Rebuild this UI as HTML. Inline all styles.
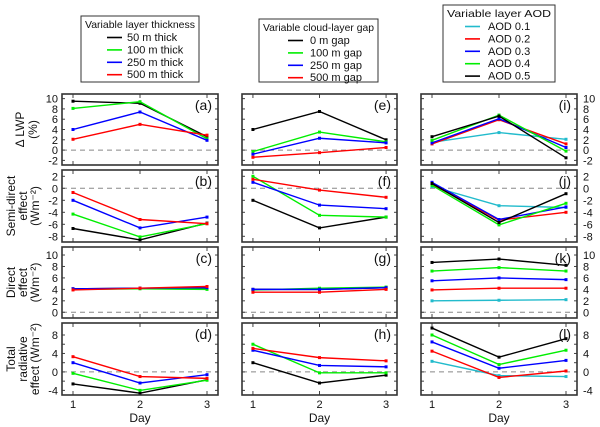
<!DOCTYPE html>
<html><head><meta charset="utf-8"><style>
body{margin:0;background:#fff;}
svg{display:block;font-family:"Liberation Sans",sans-serif;}
</style></head><body>
<svg id="chart" width="600" height="427" viewBox="0 0 600 427"></svg>
<script>
const days = [1, 2, 3];
const legendTitles = ["Variable layer thickness", "Variable cloud-layer gap", "Variable layer AOD"];
const legendLabels = [["50 m thick","100 m thick","250 m thick","500 m thick"],["0 m gap","100 m gap","250 m gap","500 m gap"],["AOD 0.1","AOD 0.2","AOD 0.3","AOD 0.4","AOD 0.5"]];
const colors12 = ["#000","#0e0","#00f","#f00"];
const colors3 = ["#2bc","#f00","#00f","#0e0","#000"];
const rowTicks = [[-2,0,2,4,6,8,10],[-8,-6,-4,-2,0,2],[0,2,4,6,8,10],[-4,0,4,8]];
const rowMinor = [[-2,0,2,4,6,8,10],[-8,-6,-4,-2,0,2],[0,2,4,6,8,10],[-4,-2,0,2,4,6,8]];
const panelLetters = [["(a)","(b)","(c)","(d)"],["(e)","(f)","(g)","(h)"],["(i)","(j)","(k)","(l)"]];
const vA = [[9.5,9.1,2.6],[8.1,9.4,2.2],[4,7.4,1.9],[2.1,5,2.9]];
const vB = [[-6.7,-8.6,-5.8],[-4.3,-8.1,-5.9],[-2,-6.6,-4.8],[-0.7,-5.2,-5.9]];
const vC = [[4.1,4.2,4.2],[4.0,4.1,4.0],[4.1,4.2,4.3],[3.9,4.2,4.5]];
const vD = [[-2.6,-4.6,-1.7],[-0.3,-4,-1.8],[2,-2.4,-0.6],[3.3,-1,-1.4]];
const vE = [[4,7.5,2],[-0.3,3.5,1.6],[-0.8,2.3,1.4],[-1.4,-0.5,0.5]];
const vF = [[-2,-6.6,-4.8],[2,-4.5,-4.8],[1,-2.8,-3.4],[1.5,-0.3,-1.5]];
const vG = [[4.0,4.0,4.3],[3.9,4.2,4.4],[4.0,4.0,4.3],[3.5,3.5,4.0]];
const vH = [[2,-2.4,-0.7],[6,-0.2,-0.2],[4.7,1.4,1.1],[5.1,3.1,2.4]];
const vI = [[1.5,3.4,2.1],[1.2,5.9,1.2],[1.4,6.1,0.5],[1.9,6.8,-0.2],[2.6,6.6,-1.5]];
const vJ = [[0.3,-2.9,-3.2],[0.7,-5.3,-4],[1,-5.2,-3.1],[0.5,-6.1,-2.5],[0.8,-5.7,-0.9]];
const vK = [[2.0,2.1,2.2],[3.9,4.2,4.2],[5.5,6,5.7],[7.2,7.8,7.2],[8.7,9.3,8.2]];
const vL = [[2.3,-0.8,-1.0],[4.5,-1.2,0.2],[6.5,0.8,2.5],[8,1.6,4.7],[9.5,3.2,7.2]];
const data = [[vA,vB,vC,vD],[vE,vF,vG,vH],[vI,vJ,vK,vL]];

const svg = document.getElementById('chart');
const NS = "http://www.w3.org/2000/svg";
function mk(tag, attrs, parent){const e=document.createElementNS(NS,tag);for(const k in attrs)e.setAttribute(k,attrs[k]);(parent||svg).appendChild(e);return e;}
const colX = [[62,218],[242,397],[421,577]];
const rowY = [[94,165],[170,242],[247,318],[323,395]];
const rowDom = [[-2.9,10.9],[-8.95,3.05],[-1,11.4],[-5,10.6]];
function xs(c,d){const [a,b]=colX[c];const p=11/156*(b-a);return a+p+(d-1)*(b-a-2*p)/2;}
function ys(r,v){const [t,b]=rowY[r];const [lo,hi]=rowDom[r];return b-(v-lo)/(hi-lo)*(b-t);}

for(let c=0;c<3;c++){
 for(let r=0;r<4;r++){
  const g=mk('g',{});
  
  
  const [x0,x1]=colX[c],[y0,y1]=rowY[r];
  mk('line',{x1:x0,x2:x1,y1:ys(r,0),y2:ys(r,0),stroke:'#888','stroke-width':1,'stroke-dasharray':'5,4'},g);
  rowMinor[r].forEach(v=>{const y=ys(r,v);mk('line',{x1:x0,x2:x0+3,y1:y,y2:y,stroke:'#444'},g);mk('line',{x1:x1,x2:x1-3,y1:y,y2:y,stroke:'#444'},g);});
  days.forEach(d=>{const x=xs(c,d);mk('line',{x1:x,x2:x,y1:y0,y2:y0+4,stroke:'#444'},g);mk('line',{x1:x,x2:x,y1:y1,y2:y1-4,stroke:'#444'},g);});
  const cols = c<2?colors12:colors3;
  data[c][r].forEach((s,i)=>{
   const pts=s.map((v,j)=>xs(c,days[j])+','+ys(r,v)).join(' ');
   const pl=mk('polyline',{points:pts,fill:'none',stroke:cols[i],'stroke-width':1.4},g);
   
   
   s.forEach((v,j)=>{const m=mk('rect',{x:xs(c,days[j])-1.5,y:ys(r,v)-1.5,width:3,height:3,fill:cols[i]},g);
    
    });
  });
  mk('rect',{x:x0,y:y0,width:x1-x0,height:y1-y0,fill:'none',stroke:'#333','stroke-width':1.6},g);
  const lt=mk('text',{x:x1-6,y:y0+16,'text-anchor':'end','font-size':14,fill:'#111'},g);lt.textContent=panelLetters[c][r];
  
  
  if(c===0||c===2){
   rowTicks[r].forEach(v=>{const t=mk('text',{x:c===0?x0-4:x1+6,y:ys(r,v)+4,'text-anchor':c===0?'end':'start','font-size':11,fill:'#111'},g);t.textContent=v;
    
    });
  }
  if(r===3){
   days.forEach(d=>{const t=mk('text',{x:xs(c,d),y:408,'text-anchor':'middle','font-size':11,fill:'#111'},g);t.textContent=d;
    
    });
   const t=mk('text',{x:(x0+x1)/2,y:422,'text-anchor':'middle','font-size':12,fill:'#111'},g);t.textContent='Day';
   
   
  }
 }
}
const yTitles=[["\u0394 LWP","(%)"],["Semi-direct","effect","(Wm\u207B\u00B2)"],["Direct","effect","(Wm\u207B\u00B2)"],["Total","radiative","effect (Wm\u207B\u00B2)"]];
const yTitleX=[[24,37],[15,27,39],[15,27,39],[15,27,39]];
yTitles.forEach((lines,r)=>{
 const cy=(rowY[r][0]+rowY[r][1])/2;
 lines.forEach((s,i)=>{const x=yTitleX[r][i];const t=mk('text',{x:x,y:cy,transform:`rotate(-90 ${x} ${cy})`,'text-anchor':'middle','font-size':12,fill:'#111'});t.textContent=s;
  
  });
});
const legBox=[[81,16,118,66],[259,19,119,63],[443,5,112,77]];
const legLineX=[[107,122,127],[288,303,310],[465,480,488]];
legendTitles.forEach((title,c)=>{
 const g=mk('g',{});
 
 
 const [bx,by,bw,bh]=legBox[c];
 mk('rect',{x:bx,y:by,width:bw,height:bh,fill:'#fff',stroke:'#333','stroke-width':1},g);
 const tt=mk('text',{x:bx+4,y:by+12,'font-size':10.5,fill:'#111',textLength:bw-8,lengthAdjust:'spacingAndGlyphs'},g);tt.textContent=title;
 
 
 const cols=c<2?colors12:colors3;
 legendLabels[c].forEach((lab,i)=>{
  const y=by+25+i*12.4;
  const [l0,l1,tx]=legLineX[c];
  mk('line',{x1:l0,x2:l1,y1:y-3.5,y2:y-3.5,stroke:cols[i],'stroke-width':1.6},g);
  const t=mk('text',{x:tx,y:y,'font-size':11,fill:'#111'},g);t.textContent=lab;
  
  
 });
});
</script>
</body></html>
